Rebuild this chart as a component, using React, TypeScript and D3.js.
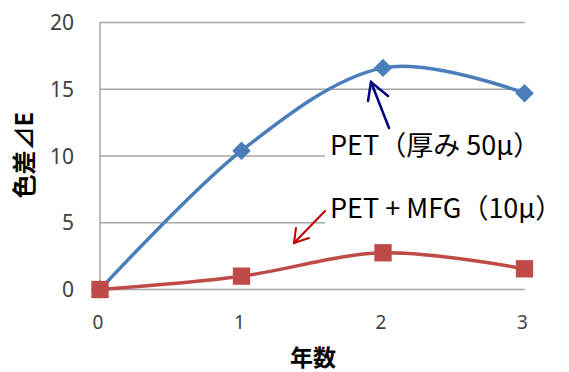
import React from "react";
import * as d3 from "d3";

const years = [0, 1, 2, 3];
const petValues = [0, 10.4, 16.6, 14.7];
const mfgValues = [0, 1.0, 2.75, 1.55];
const yTicks = [0, 5, 10, 15, 20];
const xTicks = [0, 1, 2, 3];
const petLabel = "PET（厚み 50μ）";
const mfgLabel = "PET + MFG（10μ）";
const yTitle = "色差⊿E";
const xTitle = "年数";

const W = 569;
const H = 372;
const BLUE = "#4a7ebb";
const RED = "#be4b48";
const GRID = "#a6a6a6";
const TICK = "#404040";
const JP = "'Noto Sans CJK JP', 'Noto Sans', sans-serif";
const NUM = "'Noto Sans', 'DejaVu Sans', sans-serif";

export default function App() {
  const x = d3.scaleLinear().domain([0, 3]).range([100, 524.5]);
  const y = d3.scaleLinear().domain([0, 20]).range([289.5, 22.5]);

  const line = d3
    .line<number>()
    .x((_, i) => x(years[i]))
    .y((v) => y(v))
    .curve(d3.curveCardinal.tension(0));

  // square symbol, rotated 45° for the diamond markers
  const diamond = d3.symbol(d3.symbolSquare, 170)();
  const square = d3.symbol(d3.symbolSquare, 300)();

  return (
    <svg
      width={W}
      height={H}
      style={{ position: "absolute", left: 0, top: 0, background: "#fff" }}
    >
      {/* horizontal gridlines */}
      {yTicks.map((t) => (
        <line
          key={"g" + t}
          x1={x(0)}
          x2={x(3)}
          y1={y(t)}
          y2={y(t)}
          stroke={GRID}
          strokeWidth={1.5}
        />
      ))}
      {/* value axis */}
      <line x1={x(0)} x2={x(0)} y1={y(20)} y2={y(0)} stroke={GRID} strokeWidth={1.5} />

      {/* y tick labels */}
      {yTicks.map((t) => (
        <text
          key={"yt" + t}
          x={74}
          y={y(t) + 7.5}
          textAnchor="end"
          fontFamily={NUM}
          fontSize={21}
          fill={TICK}
        >
          {t}
        </text>
      ))}
      {/* x tick labels */}
      {xTicks.map((t) => (
        <text
          key={"xt" + t}
          x={x(t) - 2}
          y={329}
          textAnchor="middle"
          fontFamily={NUM}
          fontSize={19}
          fill={TICK}
        >
          {t}
        </text>
      ))}

      {/* axis titles */}
      <text
        transform="translate(33,155) rotate(-90)"
        textAnchor="middle"
        fontFamily={JP}
        fontWeight="bold"
        fontSize={24}
        fill="#000"
      >
        {yTitle}
      </text>
      <text
        x={313}
        y={366}
        textAnchor="middle"
        fontFamily={JP}
        fontWeight="bold"
        fontSize={23}
        fill="#000"
      >
        {xTitle}
      </text>

      {/* series lines */}
      <path d={line(petValues) || ""} fill="none" stroke={BLUE} strokeWidth={3.5} />
      <path d={line(mfgValues) || ""} fill="none" stroke={RED} strokeWidth={3.5} />

      {/* markers */}
      {petValues.map((v, i) => (
        <path
          key={"pm" + i}
          d={diamond || ""}
          transform={`translate(${x(years[i])},${y(v)}) rotate(45)`}
          fill={BLUE}
        />
      ))}
      {mfgValues.map((v, i) => (
        <path
          key={"mm" + i}
          d={square || ""}
          transform={`translate(${x(years[i])},${y(v)})`}
          fill={RED}
        />
      ))}

      {/* label boxes */}
      <rect x={325} y={131} width={244} height={32} fill="#fff" />
      <text x={330} y={155} fontFamily={JP} fontSize={27} fill="#000">
        {petLabel}
      </text>
      <rect x={325} y={190} width={244} height={36} fill="#fff" />
      <text x={330} y={218} fontFamily={JP} fontSize={27} fill="#000">
        {mfgLabel}
      </text>

      {/* callout arrows */}
      <g stroke="#000080" strokeWidth={2.5} fill="none" strokeLinecap="round">
        <line x1={389} y1={128} x2={371} y2={82} />
        <polyline points="368,101 371,82 388,96" />
      </g>
      <g stroke="#c00000" strokeWidth={2} fill="none" strokeLinecap="round">
        <line x1={325} y1={211} x2={294} y2={243} />
        <polyline points="296,228 294,243 309,238" />
      </g>
    </svg>
  );
}
